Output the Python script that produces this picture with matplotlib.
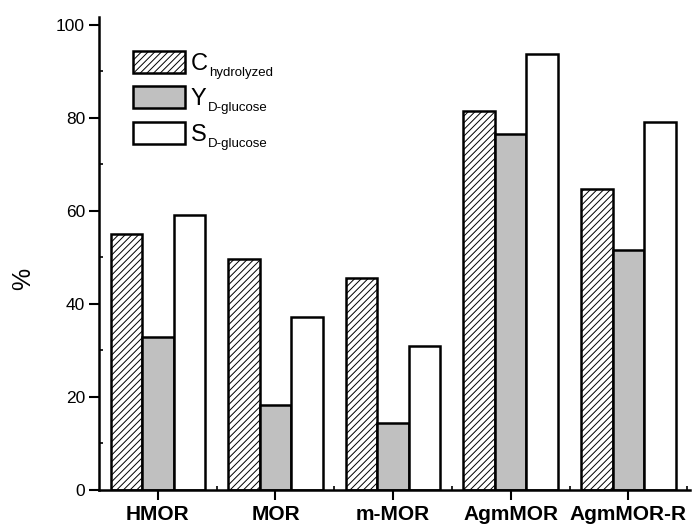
import matplotlib
matplotlib.use('Agg')
import matplotlib.pyplot as plt
import numpy as np
from matplotlib.patches import Patch
from matplotlib.ticker import FixedLocator

categories = ['HMOR', 'MOR', 'm-MOR', 'AgmMOR', 'AgmMOR-R']
c_hydrolyzed = [55.0, 49.6, 45.5, 81.5, 64.8]
y_glucose = [32.8, 18.3, 14.3, 76.5, 51.5]
s_glucose = [59.2, 37.1, 31.0, 93.8, 79.2]
series_main = ['C', 'Y', 'S']
series_sub = ['hydrolyzed', 'D-glucose', 'D-glucose']
y_ticks = [0, 20, 40, 60, 80, 100]

plt.rcParams['font.family'] = ['Liberation Sans', 'DejaVu Sans']
plt.rcParams['hatch.linewidth'] = 0.7

W, H = 692, 527
fig = plt.figure(figsize=(W / 100, H / 100), dpi=100)
left_px, right_px, bottom_px, top_px = 99, 690, 490, 17
ax = fig.add_axes([left_px / W, (H - bottom_px) / H,
                   (right_px - left_px) / W, (bottom_px - top_px) / H])

x = np.arange(len(categories))
w = 0.268
lw = 1.8
styles = [dict(facecolor='white', hatch='/////'),
          dict(facecolor='#c0c0c0'),
          dict(facecolor='white')]
series = [c_hydrolyzed, y_glucose, s_glucose]
for i, (vals, st) in enumerate(zip(series, styles)):
    ax.bar(x + (i - 1) * w, vals, width=w, edgecolor='black', linewidth=lw, **st)

ax.set_xlim(-0.5, 4.524)
ax.set_ylim(0, 101.7)
for s in ['top', 'right']:
    ax.spines[s].set_visible(False)
for s in ['left', 'bottom']:
    ax.spines[s].set_linewidth(lw)

ax.set_xticks(x)
ax.set_xticklabels(categories, fontsize=15, fontweight='bold')
ax.set_yticks(y_ticks)
ax.set_yticklabels([str(t) for t in y_ticks], fontsize=12.5)
ax.yaxis.set_minor_locator(FixedLocator([10, 30, 50, 70, 90]))
ax.xaxis.set_minor_locator(FixedLocator([0.5, 1.5, 2.5, 3.5, 4.5]))
ax.tick_params(which='major', direction='out', length=7, width=1.5, pad=3)
ax.tick_params(axis='x', which='major', pad=3.5)
ax.tick_params(which='minor', direction='in', length=3, width=1.2)
fig.text(23 / W, 1 - 279 / H, '%', fontsize=18, rotation=90, ha='center', va='center')

handles = [Patch(edgecolor='black', linewidth=lw, **st) for st in styles]
leg = ax.legend(handles, series_main, loc='upper left',
                bbox_to_anchor=(133 / W, 1 - 51 / H), bbox_transform=fig.transFigure,
                frameon=False, fontsize=17, handlelength=2.2, handleheight=1.05,
                handletextpad=0.25, labelspacing=0.48, borderpad=0, borderaxespad=0)

fig.canvas.draw()
r = fig.canvas.get_renderer()
for t, sub in zip(leg.get_texts(), series_sub):
    bb = t.get_window_extent(renderer=r)
    fig.text((bb.x1 + 1) / W, (bb.y0 - 1) / H, sub, fontsize=9.5, ha='left', va='baseline')

fig.savefig('out.png', dpi=100)
